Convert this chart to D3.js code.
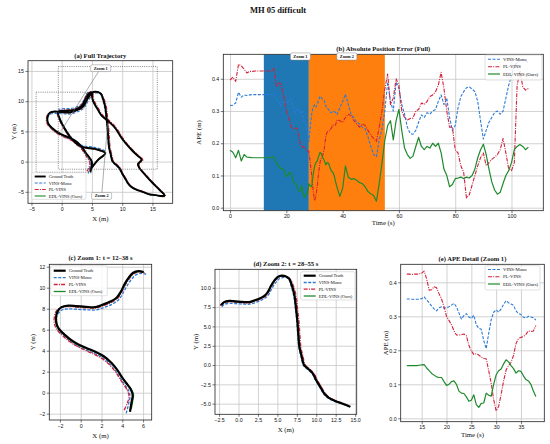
<!DOCTYPE html>
<html>
<head>
<meta charset="utf-8">
<title>MH 05 difficult</title>
<script src="https://cdn.jsdelivr.net/npm/d3@7"></script>
<style>
    body { margin: 0; background: #fff; }
    svg { display: block; font-family: "Liberation Serif", "DejaVu Serif", "Times New Roman", serif; }
</style>
</head>
<body>
<svg id="fig" width="550" height="444"></svg>
<script>
/* --- Data --- */

// APE time base (s): 1 s steps, 0.5 s inside the Zoom 1 window
const apeTime = [...d3.range(0, 12), ...d3.range(12, 38.5, 0.5), ...d3.range(39, 107)];

const apeVins = [
    .317, .318, .325, .358, .343, .35, .348, .35, .351, .351, .351, .351,
    .351, .351, .35, .35, .35, .35, .352, .357, .348, .34, .33, .322, .316, .325, .328, .324,
    .325, .328, .333, .338, .328, .31, .292, .302, .308, .298, .294, .303, .275, .265, .262,
    .228, .205, .25, .29, .312, .319, .312, .322, .335, .346, .34, .336, .332, .316, .308,
    .305, .297, .295, .3, .298, .296, .289,
    .31, .33, .352, .32, .29, .28, .265, .26, .25, .245, .22, .19, .165, .158, .21, .245,
    .3, .39, .33, .3, .39, .37, .32, .29, .25, .23, .228, .24, .265, .288, .28, .295, .29,
    .3, .305, .33, .35, .32, .34, .28, .24, .255, .31, .345, .36, .372, .375, .368, .36,
    .33, .27, .213, .24, .265, .28, .295, .3, .29, .3, .34, .38, .41, .44, .45, .46, .46,
    .455, .45
];

const apePl = [
    .396, .405, .392, .445, .44, .43, .418, .423, .423, .424, .424, .424,
    .424, .424, .423, .424, .424, .425, .427, .433, .41, .377, .378, .387, .384, .366, .351,
    .328, .3, .288, .275, .258, .245, .245, .246, .248, .243, .215, .198, .188, .19, .186,
    .18, .176, .175, .14, .103, .055, .022, .035, .07, .11, .142, .155, .165, .185, .22,
    .235, .238, .24, .247, .257, .255, .257, .273,
    .27, .265, .28, .29, .285, .27, .26, .25, .26, .255, .24, .225, .215, .205, .25, .3,
    .37, .415, .32, .34, .40, .38, .3, .28, .272, .277, .278, .3, .305, .325, .32, .33,
    .345, .35, .36, .38, .42, .37, .3, .25, .25, .18, .17, .13, .11, .03, .04, .07, .1,
    .13, .155, .17, .13, .14, .15, .157, .165, .18, .215, .17, .12, .115, .14, .38, .425,
    .375, .365, .37
];

const apeEdl = [
    .178, .172, .155, .178, .145, .165, .157, .156, .155, .155, .155, .155,
    .155, .155, .155, .155, .155, .156, .157, .158, .148, .14, .132, .127, .122, .12, .12,
    .108, .097, .1, .108, .11, .1, .08, .074, .073, .063, .05, .053, .069, .04, .032, .044,
    .045, .074, .068, .065, .1, .128, .14, .145, .16, .172, .166, .155, .146, .133, .14,
    .138, .125, .114, .11, .1, .08, .064,
    .035, .06, .13, .095, .088, .09, .085, .078, .075, .065, .05, .043, .038, .02, .075,
    .14, .21, .255, .27, .21, .27, .305, .24, .185, .165, .153, .16, .19, .218, .19, .18,
    .19, .185, .2, .19, .2, .17, .12, .1, .065, .072, .09, .092, .095, .09, .095, .092,
    .1, .12, .155, .18, .197, .165, .12, .08, .055, .042, .048, .075, .1, .115, .14, .18,
    .19, .196, .19, .18, .188
];

// Trajectory samples (time in s, positions in m)
const trajT = [
    0, 6, 12, 13, 14, 15, 16, 17, 18, 19, 20, 21, 22, 23, 24, 25, 26, 26.7, 27.3, 28,
    28.6, 29.3, 30, 31, 32, 33, 34, 35, 35.7, 36.3, 37, 37.4, 37.7, 38, 39, 40, 41, 42,
    43, 44, 45, 46, 47, 48, 49, 50, 51, 52, 53, 54, 54.5, 55, 57, 59, 60, 62, 64, 66, 68,
    69, 70, 72, 74, 76, 78, 80, 82, 84, 86, 88, 89, 90, 91, 92, 93, 94, 95, 96, 96.7,
    97.5, 98.5, 99.5, 100.5, 101.5, 102.5, 103, 103.7, 104.3, 105, 106
];

const gtX = [
    4.74, 4.75, 4.74, 4.90, 5.00, 4.80, 4.40, 3.95, 3.50, 2.95, 2.25, 1.40, 0.55, -0.22,
    -0.90, -1.50, -2.05, -2.30, -2.37, -2.22, -1.85, -1.20, -0.40, 0.50, 1.40, 2.10, 2.85,
    3.45, 3.85, 4.20, 4.65, 5.05, 5.55, 6.05, 6.50, 6.85, 7.19, 7.40, 7.58, 7.70, 7.83,
    8.13, 8.43, 8.99, 9.55, 9.98, 10.50, 11.00, 11.57, 12.42, 13.50, 14.36, 15.60, 16.60,
    17.00, 16.20, 15.00, 13.90, 12.80, 12.60, 13.20, 12.30, 11.50, 10.60, 9.90, 8.80,
    7.70, 6.60, 5.80, 5.20, 5.00, 5.00, 4.40, 3.90, 3.30, 2.20, 1.10, -0.30, -0.60, -0.30,
    0.30, 0.90, 1.80, 2.80, 4.00, 5.50, 7.20, 6.00, 5.20, 4.70
];
const gtY = [
    -1.80, -1.79, -1.81, -0.86, -0.22, 0.35, 0.90, 1.50, 2.20, 2.85, 3.45, 3.90, 4.25,
    4.60, 5.00, 5.50, 6.03, 6.50, 7.08, 7.76, 8.15, 8.30, 8.25, 8.18, 8.15, 8.38, 8.68,
    9.05, 9.60, 10.30, 11.00, 11.42, 11.58, 11.50, 11.20, 10.34, 9.05, 7.33, 5.60, 3.88,
    2.37, 1.08, 0.00, -0.52, -1.08, -1.94, -2.80, -3.66, -4.22, -4.66, -5.04, -5.39,
    -5.55, -5.70, -5.60, -4.70, -3.50, -2.30, -1.00, -0.40, 0.30, 1.20, 2.00, 3.00, 3.90,
    5.60, 6.70, 7.60, 8.90, 10.00, 10.90, 11.40, 11.20, 10.30, 9.20, 8.60, 8.45, 8.35,
    8.10, 7.00, 5.80, 4.80, 3.60, 2.70, 2.30, 2.10, 1.40, 0.30, -0.70, -1.40
];

const vinsX = [
    4.40, 4.40, 4.38, 4.62, 4.75, 4.62, 4.25, 3.83, 3.38, 2.83, 2.13, 1.28, 0.43, -0.32,
    -1.00, -1.58, -2.12, -2.36, -2.40, -2.15, -1.80, -1.15, -0.35, 0.55, 1.45, 2.25, 3.00,
    3.60, 4.00, 4.38, 4.85, 5.25, 5.80, 6.30, 6.55, 6.78, 7.10, 7.32, 7.50, 7.62, 7.75,
    8.05, 8.35, 8.92, 9.48, 9.92, 10.45, 10.95, 11.52, 12.38, 13.48, 14.36, 15.62, 16.62,
    17.02, 16.25, 15.05, 13.95, 12.85, 12.63, 13.22, 12.32, 11.50, 10.58, 9.88, 8.78,
    7.68, 6.58, 5.75, 5.15, 4.95, 4.95, 4.35, 3.85, 3.25, 2.15, 1.05, -0.35, -0.62, -0.22,
    0.40, 1.00, 1.90, 2.90, 4.00, 5.50, 7.30, 6.18, 5.35, 4.82
];
const vinsY = [
    -1.95, -1.96, -1.97, -1.02, -0.35, 0.18, 0.75, 1.35, 2.05, 2.70, 3.30, 3.75, 4.10,
    4.45, 4.88, 5.40, 5.96, 6.44, 7.02, 7.55, 7.88, 7.98, 7.95, 7.90, 7.88, 8.12, 8.42,
    8.80, 9.35, 10.05, 10.75, 11.18, 11.36, 11.28, 10.95, 10.20, 8.95, 7.28, 5.58, 3.86,
    2.35, 1.05, -0.05, -0.58, -1.14, -2.00, -2.86, -3.72, -4.27, -4.70, -5.08, -5.42,
    -5.58, -5.73, -5.62, -4.72, -3.52, -2.32, -1.02, -0.42, 0.28, 1.18, 1.98, 2.98, 3.88,
    5.60, 6.72, 7.66, 8.98, 10.08, 11.00, 11.55, 11.48, 10.62, 9.52, 8.92, 8.78, 8.68,
    8.40, 7.05, 5.82, 4.82, 3.65, 2.85, 2.55, 2.35, 1.60, 0.42, -0.58, -1.32
];

const plX = [
    4.20, 4.20, 4.18, 4.50, 4.65, 4.52, 4.20, 3.80, 3.35, 2.80, 2.10, 1.25, 0.42, -0.35,
    -1.05, -1.68, -2.25, -2.50, -2.55, -2.38, -1.95, -1.25, -0.42, 0.48, 1.40, 2.15, 2.92,
    3.52, 3.92, 4.27, 4.72, 5.12, 5.62, 6.15, 6.65, 7.05, 7.40, 7.60, 7.78, 7.90, 8.02,
    8.30, 8.58, 9.12, 9.68, 10.10, 10.62, 11.12, 11.68, 12.50, 13.55, 14.40, 15.72, 16.75,
    17.18, 16.40, 15.20, 14.10, 13.00, 12.80, 13.42, 12.52, 11.70, 10.80, 10.10, 9.00,
    7.90, 6.78, 5.98, 5.38, 5.18, 5.15, 4.38, 3.82, 3.20, 2.10, 1.00, -0.42, -0.75, -0.42,
    0.18, 0.78, 1.68, 2.70, 4.00, 5.50, 7.15, 5.90, 5.08, 4.58
];
const plY = [
    -1.65, -1.66, -1.66, -0.95, -0.35, 0.15, 0.68, 1.28, 1.98, 2.62, 3.22, 3.68, 4.05,
    4.42, 4.85, 5.38, 5.95, 6.45, 7.05, 7.72, 8.08, 8.20, 8.15, 8.08, 8.05, 8.28, 8.58,
    8.95, 9.52, 10.22, 10.92, 11.34, 11.50, 11.42, 11.12, 10.28, 9.00, 7.30, 5.58, 3.86,
    2.36, 1.08, 0.02, -0.48, -1.04, -1.90, -2.76, -3.62, -4.18, -4.62, -5.00, -5.36,
    -5.62, -5.82, -5.72, -4.76, -3.55, -2.35, -1.05, -0.45, 0.28, 1.20, 2.00, 3.00, 3.92,
    5.65, 6.78, 7.70, 9.00, 10.10, 11.02, 11.55, 11.38, 10.45, 9.32, 8.70, 8.55, 8.42,
    8.12, 6.98, 5.76, 4.76, 3.55, 2.62, 2.22, 2.02, 1.30, 0.22, -0.78, -1.50
];

const edlX = [
    4.85, 4.85, 4.86, 5.00, 5.08, 4.86, 4.44, 3.98, 3.52, 2.96, 2.26, 1.40, 0.54, -0.24,
    -0.92, -1.53, -2.09, -2.34, -2.40, -2.24, -1.86, -1.20, -0.40, 0.50, 1.40, 2.12, 2.87,
    3.47, 3.88, 4.23, 4.68, 5.08, 5.58, 6.08, 6.53, 6.88, 7.22, 7.43, 7.61, 7.73, 7.86,
    8.16, 8.46, 9.02, 9.58, 10.01, 10.53, 11.03, 11.60, 12.45, 13.53, 14.40, 15.65, 16.68,
    17.08, 16.28, 15.08, 13.96, 12.86, 12.66, 13.26, 12.35, 11.55, 10.64, 9.94, 8.84,
    7.73, 6.63, 5.83, 5.23, 5.03, 5.02, 4.41, 3.91, 3.31, 2.21, 1.11, -0.29, -0.59, -0.29,
    0.31, 0.91, 1.81, 2.81, 4.01, 5.51, 7.21, 6.01, 5.21, 4.72
];
const edlY = [
    -1.55, -1.56, -1.56, -0.80, -0.18, 0.34, 0.88, 1.47, 2.16, 2.81, 3.41, 3.86, 4.21,
    4.56, 4.96, 5.47, 6.01, 6.49, 7.08, 7.74, 8.12, 8.27, 8.22, 8.15, 8.12, 8.35, 8.65,
    9.02, 9.57, 10.27, 10.97, 11.39, 11.55, 11.47, 11.17, 10.32, 9.03, 7.31, 5.58, 3.86,
    2.35, 1.06, -0.02, -0.54, -1.10, -1.96, -2.82, -3.68, -4.24, -4.68, -5.06, -5.42,
    -5.60, -5.76, -5.68, -4.76, -3.55, -2.34, -1.04, -0.44, 0.26, 1.17, 1.97, 2.97, 3.87,
    5.58, 6.68, 7.58, 8.88, 9.98, 10.88, 11.38, 11.18, 10.28, 9.18, 8.58, 8.43, 8.33,
    8.08, 6.98, 5.78, 4.78, 3.58, 2.68, 2.28, 2.08, 1.38, 0.28, -0.72, -1.42
];

// Zoom windows (s) and the dotted boxes drawn on the full trajectory (m)
const zoomWindows = [[12, 28], [28, 55]];
const zoomLabels = ['Zoom 1', 'Zoom 2'];
const zoomBoxX = [[-4.23, 4.02], [-0.56, 15.8]];
const zoomBoxY = [[-1.76, 11.49], [-1.26, 15.73]];

// Tick labels
const ticksA = [-5, 0, 5, 10, 15];
const ticksB = { x: [0, 20, 40, 60, 80, 100], y: [0, 0.1, 0.2, 0.3, 0.4] };
const ticksC = { x: [-2, 0, 2, 4, 6], y: [-2, 0, 2, 4, 6, 8, 10, 12] };
const ticksD = { x: [-2.5, 0, 2.5, 5, 7.5, 10, 12.5, 15], y: [-5, -2.5, 0, 2.5, 5, 7.5, 10] };
const ticksE = { x: [15, 20, 25, 30, 35], y: [0, 0.1, 0.2, 0.3, 0.4] };

/* --- Config --- */
const CONFIG = {
    colors: {
        gt: '#000000',
        vins: '#2b7bd4',
        pl: '#d2213a',
        edl: '#1f8a2c',
        span: ['#1f77b4', '#ff7f0e'],
        grid: '#c6c6c6',
        frame: '#222222',
        text: '#111111'
    },
    tickFont: 5.3,
    labelFont: 6.8,
    titleFont: 6.6
};

const SERIES = {
    gt: { label: 'Ground Truth', color: CONFIG.colors.gt, dash: null },
    vins: { label: 'VINS-Mono', color: CONFIG.colors.vins, dash: '3,1.5' },
    pl: { label: 'PL-VINS', color: CONFIG.colors.pl, dash: '4,1.2,1,1.2' },
    edl: { label: 'EDL-VINS (Ours)', color: CONFIG.colors.edl, dash: null }
};

const PANELS = {
    a: { id: 'a', left: 28, right: 172.7, top: 60.7, bottom: 203.3,
         xDomain: [-5.57, 18.35], yDomain: [-6.9, 16.7], xTicks: ticksA, yTicks: ticksA,
         xFmt: d3.format('d'), yFmt: d3.format('d'),
         title: '(a) Full Trajectory', titleY: 57.5, xLabel: 'X (m)', xLabelY: 220.8,
         yLabel: 'Y (m)', yLabelX: 13.5 },
    b: { id: 'b', left: 223.3, right: 543.3, top: 54.3, bottom: 210.7,
         xDomain: [-2.4, 111.3], yDomain: [-0.0093, 0.476], xTicks: ticksB.x, yTicks: ticksB.y,
         xFmt: d3.format('d'), yFmt: d3.format('.1f'),
         title: '(b) Absolute Position Error (Full)', titleY: 50.5, xLabel: 'Time (s)', xLabelY: 224.8,
         yLabel: 'APE (m)', yLabelX: 198.5 },
    c: { id: 'c', left: 49.3, right: 151.7, top: 264.3, bottom: 420,
         xDomain: [-3.02, 6.83], yDomain: [-2.6, 12.23], xTicks: ticksC.x, yTicks: ticksC.y,
         xFmt: d3.format('d'), yFmt: d3.format('d'),
         title: '(c) Zoom 1: t = 12\u201338 s', titleY: 259.8, xLabel: 'X (m)', xLabelY: 437.5,
         yLabel: 'Y (m)', yLabelX: 33 },
    d: { id: 'd', left: 215, right: 356.7, top: 269.3, bottom: 414.3,
         xDomain: [-3.02, 15.2], yDomain: [-6.38, 12.4], xTicks: ticksD.x, yTicks: ticksD.y,
         xFmt: d3.format('.1f'), yFmt: d3.format('.1f'),
         title: '(d) Zoom 2: t = 28\u201355 s', titleY: 265.8, xLabel: 'X (m)', xLabelY: 431.5,
         yLabel: 'Y (m)', yLabelX: 196 },
    e: { id: 'e', left: 400.7, right: 544.3, top: 264.3, bottom: 421.7,
         xDomain: [10.77, 39.7], yDomain: [-0.01, 0.453], xTicks: ticksE.x, yTicks: ticksE.y,
         xFmt: d3.format('d'), yFmt: d3.format('.1f'),
         title: '(e) APE Detail (Zoom 1)', titleY: 260.8, xLabel: 'Time (s)', xLabelY: 436.8,
         yLabel: 'APE (m)', yLabelX: 386 }
};

const LEGENDS = {
    a: { x: 31.7, y: 172.7, w: 54.3, h: 26.6, rows: [176.5, 183, 189.5, 196], handle: 11, font: 4.5 },
    b: { x: 485, y: 55, w: 57, h: 25, rows: [59.3, 66.7, 74], handle: 12, font: 4.7 },
    c: { x: 50.7, y: 265.7, w: 56.6, h: 30, rows: [270.7, 277.7, 284.5, 291.5], handle: 12, font: 4.5 },
    d: { x: 300.7, y: 271.7, w: 54.3, h: 28.3, rows: [275.7, 282.5, 289.2, 296], handle: 12, font: 4.5 },
    e: { x: 485, y: 265.7, w: 55, h: 24.3, rows: [269.5, 276.8, 284], handle: 12, font: 4.7 }
};

// annotation callouts on the full trajectory (label centre -> target, in m)
const CALLOUTS = [
    { text: 'Zoom 1', at: [6.45, 15.46], to: [-0.1, 5.1] },
    { text: 'Zoom 2', at: [6.6, -5.68], to: [7.6, 6.36] }
];

/* --- Helpers --- */
const svg = d3.select('#fig');

function setupAxes(p) {
    const x = d3.scaleLinear().domain(p.xDomain).range([p.left, p.right]);
    const y = d3.scaleLinear().domain(p.yDomain).range([p.bottom, p.top]);
    const w = p.right - p.left, h = p.bottom - p.top;
    const g = svg.append('g');

    // Grid
    g.append('g')
        .attr('transform', `translate(0,${p.bottom})`)
        .call(d3.axisBottom(x).tickValues(p.xTicks).tickSize(-h).tickFormat(''))
        .call(s => s.select('.domain').remove())
        .selectAll('line').attr('stroke', CONFIG.colors.grid).attr('stroke-width', 0.8);
    g.append('g')
        .attr('transform', `translate(${p.left},0)`)
        .call(d3.axisLeft(y).tickValues(p.yTicks).tickSize(-w).tickFormat(''))
        .call(s => s.select('.domain').remove())
        .selectAll('line').attr('stroke', CONFIG.colors.grid).attr('stroke-width', 0.8);

    svg.append('clipPath').attr('id', 'clip-' + p.id)
        .append('rect').attr('x', p.left).attr('y', p.top).attr('width', w).attr('height', h);
    const plot = g.append('g').attr('clip-path', `url(#clip-${p.id})`);

    return { x, y, g, plot };
}

function finishAxes(ax, p) {
    const { x, y, g } = ax;
    g.append('rect')
        .attr('x', p.left).attr('y', p.top)
        .attr('width', p.right - p.left).attr('height', p.bottom - p.top)
        .attr('fill', 'none').attr('stroke', CONFIG.colors.frame).attr('stroke-width', 0.8);

    const styleAxis = s => {
        s.select('.domain').remove();
        s.selectAll('line').attr('stroke', CONFIG.colors.frame).attr('stroke-width', 0.6);
        s.selectAll('text').attr('font-size', CONFIG.tickFont).attr('fill', CONFIG.colors.text)
            .attr('font-family', null);
    };
    g.append('g').attr('transform', `translate(0,${p.bottom})`)
        .call(d3.axisBottom(x).tickValues(p.xTicks).tickSize(2.5).tickPadding(1.5).tickFormat(p.xFmt))
        .call(styleAxis);
    g.append('g').attr('transform', `translate(${p.left},0)`)
        .call(d3.axisLeft(y).tickValues(p.yTicks).tickSize(2.5).tickPadding(1.5).tickFormat(p.yFmt))
        .call(styleAxis);

    const cx = (p.left + p.right) / 2, cy = (p.top + p.bottom) / 2;
    g.append('text').attr('x', cx).attr('y', p.titleY)
        .attr('text-anchor', 'middle').attr('font-weight', 'bold')
        .attr('font-size', CONFIG.titleFont).attr('fill', CONFIG.colors.text).text(p.title);
    g.append('text').attr('x', cx).attr('y', p.xLabelY)
        .attr('text-anchor', 'middle').attr('font-size', CONFIG.labelFont)
        .attr('fill', CONFIG.colors.text).text(p.xLabel);
    g.append('text')
        .attr('transform', `translate(${p.yLabelX},${cy}) rotate(-90)`)
        .attr('text-anchor', 'middle').attr('dy', '0.35em').attr('font-size', CONFIG.labelFont)
        .attr('fill', CONFIG.colors.text).text(p.yLabel);
}

function drawLegend(L, keys, widths) {
    const g = svg.append('g');
    g.append('rect')
        .attr('x', L.x).attr('y', L.y).attr('width', L.w).attr('height', L.h)
        .attr('rx', 1.5).attr('fill', '#fff').attr('fill-opacity', 0.8)
        .attr('stroke', '#cccccc').attr('stroke-width', 0.6);
    keys.forEach((k, i) => {
        const s = SERIES[k];
        g.append('line')
            .attr('x1', L.x + 3).attr('x2', L.x + 3 + L.handle)
            .attr('y1', L.rows[i]).attr('y2', L.rows[i])
            .attr('stroke', s.color).attr('stroke-width', widths[k])
            .attr('stroke-dasharray', s.dash);
        g.append('text')
            .attr('x', L.x + L.handle + 6).attr('y', L.rows[i]).attr('dy', '0.35em')
            .attr('font-size', L.font).attr('fill', CONFIG.colors.text).text(s.label);
    });
}

function trajSeries() {
    return {
        gt: gtX.map((v, i) => ({ t: trajT[i], x: v, y: gtY[i] })),
        vins: vinsX.map((v, i) => ({ t: trajT[i], x: v, y: vinsY[i] })),
        pl: plX.map((v, i) => ({ t: trajT[i], x: v, y: plY[i] })),
        edl: edlX.map((v, i) => ({ t: trajT[i], x: v, y: edlY[i] }))
    };
}

function apeSeries() {
    return {
        vins: apeTime.map((t, i) => ({ t, v: apeVins[i] })),
        pl: apeTime.map((t, i) => ({ t, v: apePl[i] })),
        edl: apeTime.map((t, i) => ({ t, v: apeEdl[i] }))
    };
}

/* --- Trajectory panels --- */
function drawTrajectory(p, range, widths) {
    const ax = setupAxes(p);
    const data = trajSeries();
    const line = d3.line().x(d => ax.x(d.x)).y(d => ax.y(d.y)).curve(d3.curveCatmullRom.alpha(0.5));
    const inRange = d => !range || (d.t >= range[0] - 1e-6 && d.t <= range[1] + 1e-6);

    // estimates first, ground truth on top
    ['vins', 'pl', 'edl', 'gt'].forEach(k => {
        ax.plot.append('path')
            .datum(data[k].filter(inRange))
            .attr('d', line)
            .attr('fill', 'none')
            .attr('stroke', SERIES[k].color)
            .attr('stroke-width', widths[k])
            .attr('stroke-dasharray', SERIES[k].dash)
            .attr('stroke-linejoin', 'round');
    });
    return ax;
}

const trajWidthsA = { gt: 1.9, vins: 1.1, pl: 1.1, edl: 1.1 };
const trajWidthsZoom = { gt: 2.2, vins: 1.3, pl: 1.3, edl: 1.3 };

// (a)
const axA = drawTrajectory(PANELS.a, null, trajWidthsA);
zoomBoxX.forEach((bx, i) => {
    const by = zoomBoxY[i];
    axA.plot.append('rect')
        .attr('x', axA.x(bx[0])).attr('y', axA.y(by[1]))
        .attr('width', axA.x(bx[1]) - axA.x(bx[0])).attr('height', axA.y(by[0]) - axA.y(by[1]))
        .attr('fill', 'none').attr('stroke', '#555').attr('stroke-width', 0.7)
        .attr('stroke-dasharray', '1,1.2');
});
CALLOUTS.forEach(c => {
    const lx = axA.x(c.at[0]), ly = axA.y(c.at[1]);
    axA.g.append('line')
        .attr('x1', lx).attr('y1', ly).attr('x2', axA.x(c.to[0])).attr('y2', axA.y(c.to[1]))
        .attr('stroke', '#777').attr('stroke-width', 0.6);
    axA.g.append('rect')
        .attr('x', lx - 10).attr('y', ly - 3.4).attr('width', 20).attr('height', 6.8)
        .attr('rx', 1.5).attr('fill', '#fff').attr('stroke', '#888').attr('stroke-width', 0.5);
    axA.g.append('text').attr('x', lx).attr('y', ly).attr('dy', '0.35em')
        .attr('text-anchor', 'middle').attr('font-size', 4.3).attr('font-weight', 'bold')
        .attr('fill', CONFIG.colors.text).text(c.text);
});
finishAxes(axA, PANELS.a);
drawLegend(LEGENDS.a, ['gt', 'vins', 'pl', 'edl'], trajWidthsA);

// (c) and (d)
const axC = drawTrajectory(PANELS.c, [12, 38], trajWidthsZoom);
finishAxes(axC, PANELS.c);
drawLegend(LEGENDS.c, ['gt', 'vins', 'pl', 'edl'], trajWidthsZoom);

const axD = drawTrajectory(PANELS.d, [28, 55], trajWidthsZoom);
finishAxes(axD, PANELS.d);
drawLegend(LEGENDS.d, ['gt', 'vins', 'pl', 'edl'], trajWidthsZoom);

/* --- APE panels --- */
const apeWidths = { vins: 1.1, pl: 1.1, edl: 1.2 };

function drawApe(p, range, spans) {
    const ax = setupAxes(p);
    const data = apeSeries();

    if (spans) {
        zoomWindows.forEach((w, i) => {
            ax.plot.append('rect')
                .attr('x', ax.x(w[0])).attr('y', p.top)
                .attr('width', ax.x(w[1]) - ax.x(w[0])).attr('height', p.bottom - p.top)
                .attr('fill', CONFIG.colors.span[i]);
        });
    }

    const line = d3.line().x(d => ax.x(d.t)).y(d => ax.y(d.v));
    const inRange = d => !range || (d.t >= range[0] && d.t <= range[1]);
    ['vins', 'pl', 'edl'].forEach(k => {
        ax.plot.append('path')
            .datum(data[k].filter(inRange))
            .attr('d', line)
            .attr('fill', 'none')
            .attr('stroke', SERIES[k].color)
            .attr('stroke-width', apeWidths[k])
            .attr('stroke-dasharray', SERIES[k].dash)
            .attr('stroke-linejoin', 'round');
    });
    return ax;
}

// (b)
const axB = drawApe(PANELS.b, null, true);
finishAxes(axB, PANELS.b);
const spanLabelT = [25, 41.5];
zoomLabels.forEach((txt, i) => {
    const cx = axB.x(spanLabelT[i]), cy = 56.5;
    axB.g.append('rect')
        .attr('x', cx - 10).attr('y', cy - 3.6).attr('width', 20).attr('height', 7.2)
        .attr('rx', 1.5).attr('fill', '#fff').attr('stroke', '#888').attr('stroke-width', 0.5);
    axB.g.append('text').attr('x', cx).attr('y', cy).attr('dy', '0.35em')
        .attr('text-anchor', 'middle').attr('font-size', 4.4).attr('font-weight', 'bold')
        .attr('fill', CONFIG.colors.text).text(txt);
});
drawLegend(LEGENDS.b, ['vins', 'pl', 'edl'], apeWidths);

// (e)
const axE = drawApe(PANELS.e, [12, 38], false);
finishAxes(axE, PANELS.e);
drawLegend(LEGENDS.e, ['vins', 'pl', 'edl'], apeWidths);

// Figure title
svg.append('text').attr('x', 278).attr('y', 12.7)
    .attr('text-anchor', 'middle').attr('font-weight', 'bold').attr('font-size', 8.5)
    .attr('fill', CONFIG.colors.text).text('MH 05 difficult');
</script>
</body>
</html>
